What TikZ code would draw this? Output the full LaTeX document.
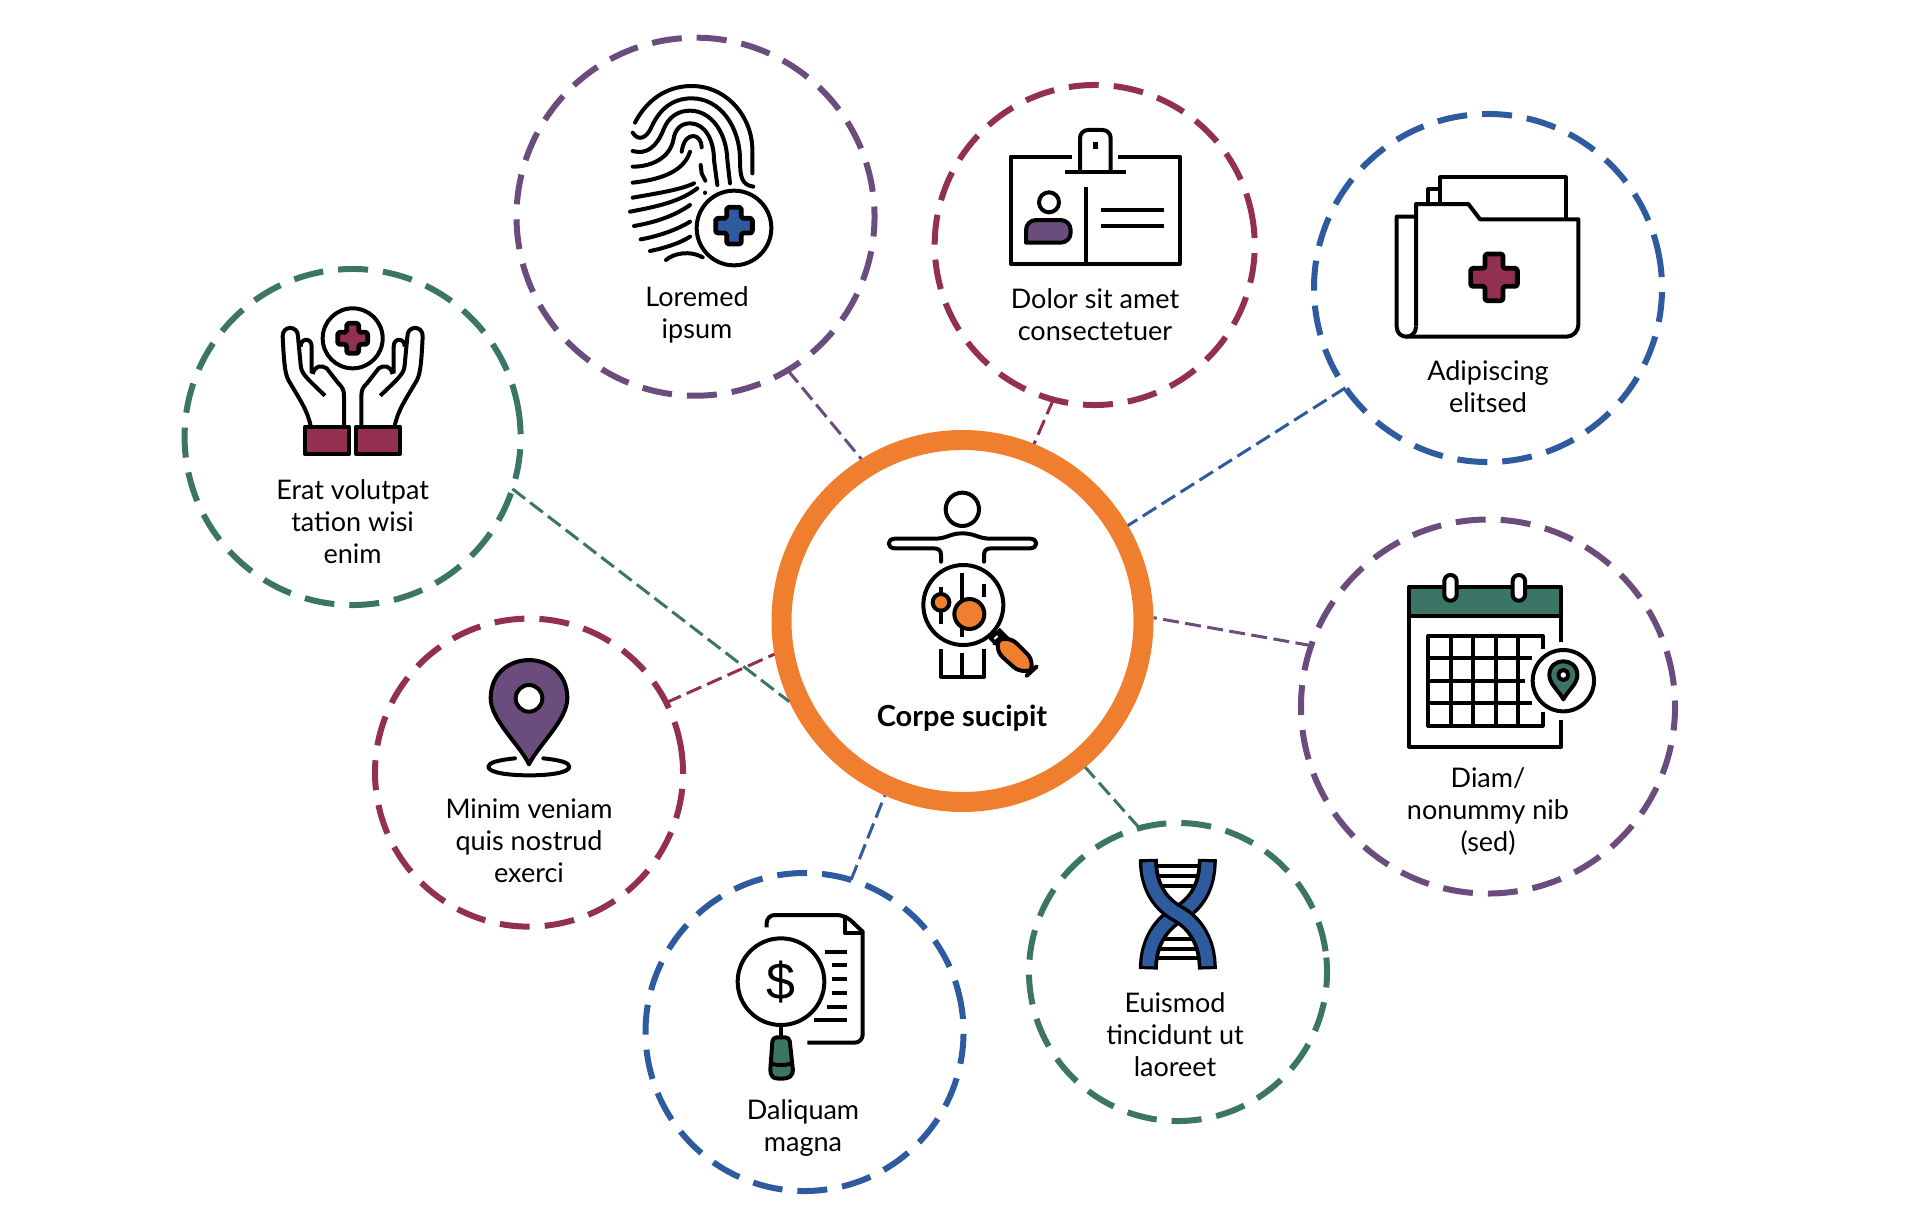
\documentclass[tikz,border=0pt]{standalone}
\usepackage{fontspec}
\setmainfont{Lato}
\definecolor{cOrange}{HTML}{EF7F2E}
\definecolor{cPurple}{HTML}{6A4C7D}
\definecolor{cMaroon}{HTML}{94304F}
\definecolor{cBlue}{HTML}{2E5A9E}
\definecolor{cGreen}{HTML}{3A7565}
\tikzset{
  ring/.style={circle,draw=#1,line width=3pt,inner sep=0pt,outer sep=0pt,dash pattern=on 15pt off 7.5pt},
  link/.style={draw=#1,line width=1.5pt,dash pattern=on 8pt off 3.2pt},
  label/.style={align=center,font=\fontsize{13.5}{16}\selectfont,inner sep=0pt},
  zm/.style 2 args={shift={(#1,#2)},x=0.16667pt,y=-0.16667pt},
  ic/.style={draw=black,line width=2pt,line join=round},
  icr/.style={ic,line cap=round},
}
\newcommand{\plusicon}[5]{%
  \begin{scope}[shift={(#1,#2)}]
  \draw[ic,line width=2.4pt,fill=#5,rounded corners=1.2pt] (-#4,-#3)--(#4,-#3)--(#4,-#4)--(#3,-#4)--(#3,#4)--(#4,#4)--(#4,#3)--(-#4,#3)--(-#4,#4)--(-#3,#4)--(-#3,-#4)--(-#4,-#4)--cycle;
  \end{scope}}
\begin{document}
\begin{tikzpicture}[x=0.5pt,y=-0.5pt]
\useasboundingbox (0,0) rectangle (1920,1230);
% rings
\node[circle,draw=cOrange,line width=10pt,inner sep=0pt,minimum size=362*0.5pt] (hub) at (962.5,621) {};
\node[ring=cPurple,minimum size=179pt,rotate=8] (fp) at (695.5,216.7) {};
\node[ring=cMaroon,minimum size=160pt,rotate=8] (id) at (1094.7,245) {};
\node[ring=cBlue,minimum size=174pt,rotate=8] (fo) at (1488,288) {};
\node[ring=cPurple,minimum size=187pt,rotate=8] (ca) at (1488,706.5) {};
\node[ring=cGreen,minimum size=149pt,rotate=8] (dn) at (1178,972) {};
\node[ring=cBlue,minimum size=159pt,rotate=8] (dc) at (804.5,1032) {};
\node[ring=cMaroon,minimum size=154pt,rotate=8] (pi) at (529,772.6) {};
\node[ring=cGreen,minimum size=168pt,rotate=8] (ha) at (352.6,437) {};
% connectors
\draw[link=cPurple] (fp.{-59.6-8}) -- (hub.122.6);
\draw[link=cMaroon] (id.{-105.5-8}) -- (hub.68.4);
\draw[link=cBlue] (fo.{215-8}) -- (hub.30.7);
\draw[link=cPurple] (ca.{161-8}) -- (hub.1);
\draw[link=cGreen] (dn.{105.7-8}) -- (hub.-50);
\draw[link=cBlue] (dc.{73-8}) -- (hub.-114.4);
\draw[link=cMaroon] (pi.{27.2-8}) -- (hub.190);
\draw[link=cGreen] (ha.{-18.6-8}) -- (hub.205);
% labels
\node[label,font=\fontsize{14.5}{17}\selectfont\bfseries] (t0) at (962,718) {Corpe sucipit};
\node[label] (t1) at (697,315) {Loremed\\ipsum};
\node[label] (t2) at (1095,315) {Dolor sit amet\\consectetuer};
\node[label] (t3) at (1488,387) {Adipiscing\\elitsed};
\node[label] (t4) at (352.6,521.6) {Erat volutpat\\tation wisi\\enim};
\node[label] (t5) at (529,841) {Minim veniam\\quis nostrud\\exerci};
\node[label] (t6) at (803,1128) {Daliquam\\magna};
\node[label] (t7) at (1175,1035) {Euismod\\tincidunt ut\\laoreet};
\node[label] (t8) at (1488,812) {Diam/\\nonummy nib\\(sed)};
% body icon
\begin{scope}[zm={840}{470}]
\draw[ic] (367,118) circle (50);
\draw[icr] (303,275) -- (303,255) .. controls (303,240) and (295,235) .. (280,235) -- (165,235) .. controls (140,235) and (140,206) .. (165,206) -- (285,206) .. controls (320,206) and (330,190) .. (367,190) .. controls (405,190) and (415,206) .. (450,206) -- (570,206) .. controls (595,206) and (595,235) .. (570,235) -- (455,235) .. controls (440,235) and (432,240) .. (432,255) -- (432,275);
\draw[ic] (370,405) circle (120);
\draw[ic] (303,350) -- (303,462);
\draw[ic,fill=cOrange] (303,397) circle (25);
\draw[ic] (367,308) -- (367,500);
\draw[ic,fill=cOrange] (388,432) circle (45);
\draw[ic] (432,343) -- (432,380);
\draw[ic] (303,538) -- (303,620) -- (432,620) -- (432,538);
\draw[ic] (367,548) -- (367,620);
\draw[ic] (455,490) -- (490,525);
\draw[ic] (475,478) -- (510,513);
\draw[ic,fill=white] (452,505) -- (470,487) -- (485,500) -- (467,520) -- cycle;
\draw[ic,fill=cOrange,rounded corners=8pt] (497,487) -- (595,585) -- (555,622) -- (453,530) -- cycle;
\end{scope}
% fingerprint
\begin{scope}[zm={610}{70}]
\begin{scope}[icr,fill=none]
\draw[icr] (75,158) .. controls (110,90) and (170,48) .. (245,48) .. controls (350,48) and (427,140) .. (427,240) -- (427,310);
\draw[icr] (68,188) .. controls (85,215) and (110,205) .. (125,170) .. controls (150,115) and (190,85) .. (245,85) .. controls (330,85) and (390,170) .. (390,270) .. controls (390,320) and (395,345) .. (430,350);
\draw[icr] (68,243) .. controls (110,255) and (140,230) .. (160,180) .. controls (175,140) and (205,122) .. (240,122) .. controls (305,122) and (350,190) .. (352,270) -- (360,340);
\draw[icr] (68,290) .. controls (130,290) and (180,260) .. (190,210) .. controls (195,175) and (215,160) .. (240,160) .. controls (285,160) and (312,210) .. (312,270) -- (322,345);
\draw[icr] (68,338) .. controls (140,330) and (220,310) .. (240,245);
\draw[icr] (215,245) .. controls (220,210) and (235,198) .. (250,198) .. controls (265,198) and (275,215) .. (275,232);
\draw[icr] (68,383) .. controls (140,370) and (210,360) .. (252,340);
\draw[icr] (60,425) .. controls (140,410) and (210,395) .. (262,355);
\draw[icr] (72,468) .. controls (130,458) and (190,440) .. (240,405);
\draw[icr] (92,508) .. controls (140,500) and (200,480) .. (240,455);
\draw[icr] (120,543) .. controls (160,535) and (210,520) .. (240,500);
\draw[icr] (168,570) .. controls (190,550) and (240,540) .. (278,562);
\draw[icr] (272,285) -- (275,310) -- (286,332);
\draw[icr] (285,368) -- (285,369);
\end{scope}
\draw[ic,fill=white] (372,474) circle (112);
\plusicon{372}{467}{55}{22}{cBlue}
\end{scope}
% ID card
\begin{scope}[zm={990}{110}]
\draw[ic] (247,140) -- (62,140) -- (62,462) -- (570,462) -- (570,140) -- (385,140);
\draw[ic,rounded corners=4pt] (270,187) -- (270,60) -- (362,60) -- (362,187);
\draw[ic] (225,187) -- (408,187);
\draw[ic,line width=2.5pt] (317,95) -- (317,118);
\draw[ic] (287,232) -- (287,462);
\draw[ic] (177,277) circle (30);
\draw[ic,fill=cPurple,rounded corners=5pt] (108,398) -- (108,330) -- (242,330) -- (242,398) [sharp corners] -- cycle;
\draw[ic] (333,300) -- (523,300);
\draw[ic] (333,347) -- (523,347);
\end{scope}
% folder
\begin{scope}[zm={1380}{160}]
\draw[ic] (180,128) -- (180,52) -- (557,52) -- (557,178);
\draw[ic] (145,130) -- (145,88) -- (180,88);
\draw[ic] (108,170) -- (50,170) -- (50,500) .. controls (50,540) and (108,540) .. (108,500);
\draw[ic,rounded corners=6pt] (80,530) -- (595,530) [sharp corners] -- (595,178) -- (300,178) -- (265,132) -- (108,132) -- (108,500);
\plusicon{342}{352}{70}{27}{cMaroon}
\end{scope}
% calendar
\begin{scope}[zm={1390}{560}]
\draw[ic] (513,245) -- (513,168);
\draw[ic] (513,480) -- (513,560) -- (57,560) -- (57,168);
\draw[ic,fill=cGreen] (57,80) rectangle (513,168);
\draw[ic,fill=white,rounded corners=3pt] (163,45) rectangle (200,122);
\draw[ic,fill=white,rounded corners=3pt] (368,45) rectangle (405,122);
\draw[ic] (458,268) -- (458,228) -- (115,228) -- (115,497) -- (458,497) -- (458,455);
\draw[ic] (183,228) -- (183,497);
\draw[ic] (250,228) -- (250,497);
\draw[ic] (318,228) -- (318,497);
\draw[ic] (385,228) -- (385,497);
\draw[ic] (115,295) -- (425,295);
\draw[ic] (115,362) -- (405,362);
\draw[ic] (115,430) -- (425,430);
\draw[ic] (520,362) circle (92);
\draw[ic,fill=cGreen] (520,418) .. controls (505,390) and (478,372) .. (478,345) .. controls (478,290) and (562,290) .. (562,345) .. controls (562,372) and (535,390) .. (520,418) -- cycle;
\draw[ic,fill=white] (520,345) circle (15);
\end{scope}
% dna
\begin{scope}[zm={1120}{845}]
\foreach \yy/\xa/\xb in {62/105/240,93/105/240,124/115/230,283/115/230,312/105/240,340/105/240}{
  \draw[ic] (\xa,\yy) -- (\xb,\yy);}
\def\strandb{(262,42) .. controls (262,130) and (225,180) .. (175,207) .. controls (125,235) and (85,290) .. (85,373)}
\def\stranda{(85,42) .. controls (85,130) and (125,180) .. (175,207) .. controls (225,235) and (262,290) .. (262,373)}
\draw[black,line width=9.5pt] \strandb;
\draw[cBlue,line width=6pt,shorten >=1.6pt,shorten <=1.6pt] \strandb;
\draw[black,line width=9.5pt] \stranda;
\draw[cBlue,line width=6pt,shorten >=1.6pt,shorten <=1.6pt] \stranda;
\end{scope}
% doc
\begin{scope}[zm={720}{900}]
\draw[ic,rounded corners=4pt] (140,82) -- (140,45) -- (375,45) [sharp corners] -- (428,95) [rounded corners=4pt] -- (428,428) -- (262,428);
\draw[ic] (375,45) -- (375,100) -- (428,100);
\draw[ic] (315,155) -- (380,155);
\draw[ic] (335,196) -- (380,196);
\draw[ic] (335,237) -- (380,237);
\draw[ic] (335,278) -- (380,278);
\draw[ic] (320,320) -- (380,320);
\draw[ic] (283,360) -- (380,360);
\draw[ic,fill=white] (183,245) circle (130);
\node[inner sep=0pt,font=\fontsize{26}{26}\selectfont\fontspec{Liberation Sans}] (dollar) at (183,245) {\$};
\draw[ic] (183,375) -- (183,412);
\draw[ic,fill=cGreen,rounded corners=2pt] (158,412) -- (208,412) -- (220,522) .. controls (200,538) and (165,538) .. (150,522) -- cycle;
\draw[ic] (152,490) .. controls (170,497) and (195,497) .. (216,490);
\end{scope}
% pin
\begin{scope}[zm={470}{650}]
\draw[icr] (135,325) .. controls (85,330) and (55,338) .. (55,350) .. controls (55,368) and (115,376) .. (177,376) .. controls (240,376) and (298,368) .. (298,350) .. controls (298,338) and (270,330) .. (220,325);
\draw[ic,fill=cPurple] (177,343) .. controls (150,285) and (62,210) .. (62,145) .. controls (62,-8) and (292,-8) .. (292,145) .. controls (292,210) and (205,285) .. (177,343) -- cycle;
\draw[ic,fill=white] (177,145) circle (40);
\end{scope}
% hands
\begin{scope}[zm={270}{300}]
\draw[ic] (248,115) circle (90);
\plusicon{248}{115}{45}{18}{cMaroon}
\draw[ic,fill=cMaroon] (105,380) rectangle (237,462);
\draw[ic,fill=cMaroon] (258,380) rectangle (390,462);
\foreach \sc/\dx in {1/0,-1/496}{
\begin{scope}[shift={(\dx,0)},xscale=\sc]
\draw[ic] (122,378) .. controls (112,330) and (90,300) .. (55,240) .. controls (45,220) and (42,190) .. (38,110) .. controls (36,75) and (85,75) .. (84,110) -- (92,195) .. controls (95,220) and (100,225) .. (165,287);
\draw[ic] (92,140) .. controls (90,115) and (125,110) .. (125,140) -- (125,220);
\draw[ic] (128,222) .. controls (135,195) and (155,195) .. (170,205) -- (205,250) .. controls (218,262) and (222,270) .. (222,290) -- (222,378);
\end{scope}}
\end{scope}
\end{tikzpicture}
\end{document}
